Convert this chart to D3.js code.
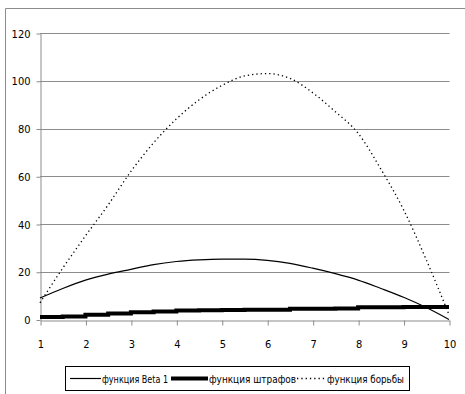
<!DOCTYPE html>
<html>
<head>
<meta charset="utf-8">
<script src="https://cdn.jsdelivr.net/npm/d3@7"></script>
<style>
  body { margin: 0; background: #fff; }
  text { font-family: "DejaVu Sans Condensed", "Liberation Sans Narrow", "Liberation Sans", sans-serif; font-size: 11px; fill: #000; }
</style>
</head>
<body>
<script>
// x values (half steps)
const xs = [1, 1.5, 2, 2.5, 3, 3.5, 4, 4.5, 5, 5.5, 6, 6.5, 7, 7.5, 8, 8.5, 9, 9.5, 10];
const beta1 = [9, 13, 16.5, 19, 21, 23, 24.3, 25, 25.3, 25.3, 24.8, 23.5, 21.5, 19.2, 16.5, 13, 9.3, 5, 0];
const shtraf = [1.0, 1.3, 2.0, 2.5, 3.0, 3.3, 3.8, 3.9, 4.0, 4.1, 4.1, 4.5, 4.5, 4.6, 5.1, 5.1, 5.2, 5.2, 5.2];
const borba = [7, 21.5, 35, 48, 62, 74, 84, 92, 98, 102, 103, 101, 95, 87, 78, 63, 46, 25, 2];
const xTicks = [1, 2, 3, 4, 5, 6, 7, 8, 9, 10];
const yTicks = [0, 20, 40, 60, 80, 100, 120];
const names = ["функция Beta 1", "функция штрафов", "функция борьбы"];

const width = 465, height = 394;
const margin = {top: 33, right: 16, bottom: 74, left: 40};

const svg = d3.select("body").append("svg")
    .attr("width", width)
    .attr("height", height);

// outer chart frame (top and left visible)
svg.append("path")
    .attr("d", `M5.5,${height}V8.5H${width}`)
    .attr("fill", "none")
    .attr("stroke", "#8c8c8c");

const x = d3.scaleLinear()
    .domain([1, 10])
    .range([margin.left, width - margin.right]);

const y = d3.scaleLinear()
    .domain([0, 120])
    .range([height - margin.bottom - 0.5, margin.top]);

// grid
svg.append("g")
  .selectAll("line")
  .data(yTicks.filter(d => d > 0))
  .join("line")
    .attr("x1", margin.left)
    .attr("x2", x(10) + 0.5)
    .attr("y1", d => Math.round(y(d)) + 0.5)
    .attr("y2", d => Math.round(y(d)) + 0.5)
    .attr("stroke", "#8c8c8c");

const yAxis = g => g
    .attr("transform", `translate(${margin.left + 0.5},0.5)`)
    .call(d3.axisLeft(y).tickValues(yTicks).tickSize(4).tickPadding(6).tickSizeOuter(0))
    .call(g => g.selectAll("line, path").attr("stroke", "#8c8c8c"));

const xAxis = g => g
    .attr("transform", `translate(0.5,${Math.round(y(0)) + 0.5})`)
    .call(d3.axisBottom(x).tickValues(xTicks).tickSize(5).tickPadding(15).tickSizeOuter(0))
    .call(g => g.selectAll("line, path").attr("stroke", "#8c8c8c"));

svg.append("g").call(yAxis).selectAll("text")
    .style("font-family", null).style("font-size", "11px");
svg.append("g").call(xAxis).selectAll("text")
    .style("font-size", "11px");
svg.selectAll(".tick text").attr("font-family", null);

const line = d3.line()
    .x((d, i) => x(xs[i]))
    .y(d => y(d))
    .curve(d3.curveMonotoneX);

svg.append("path")
    .datum(borba)
    .attr("fill", "none")
    .attr("stroke", "#000")
    .attr("stroke-width", 1.3)
    .attr("stroke-dasharray", "1.3,3")
    .attr("d", line);

svg.append("path")
    .datum(beta1)
    .attr("fill", "none")
    .attr("stroke", "#000")
    .attr("stroke-width", 1.2)
    .attr("d", line);

svg.append("path")
    .datum(shtraf)
    .attr("fill", "none")
    .attr("stroke", "#000")
    .attr("stroke-width", 4)
    .attr("d", line.curve(d3.curveStepAfter));

// legend
const legend = svg.append("g");
legend.append("rect")
    .attr("x", 65.5).attr("y", 366.5)
    .attr("width", 344).attr("height", 24)
    .attr("fill", "#fff")
    .attr("stroke", "#000");

const items = [
  {name: names[0], x0: 70, x1: 101, tw: 66, w: 1.2, dash: null},
  {name: names[1], x0: 171, x1: 208, tw: 87, w: 4, dash: null},
  {name: names[2], x0: 297, x1: 326, tw: 77, w: 1.3, dash: "1.3,3"}
];
items.forEach(it => {
  legend.append("line")
      .attr("x1", it.x0).attr("x2", it.x1)
      .attr("y1", 378.5).attr("y2", 378.5)
      .attr("stroke", "#000")
      .attr("stroke-width", it.w)
      .attr("stroke-dasharray", it.dash);
  legend.append("text")
      .attr("x", it.x1 + 1)
      .attr("y", 382.5)
      .attr("textLength", it.tw)
      .attr("lengthAdjust", "spacingAndGlyphs")
      .text(it.name);
});
</script>
</body>
</html>
